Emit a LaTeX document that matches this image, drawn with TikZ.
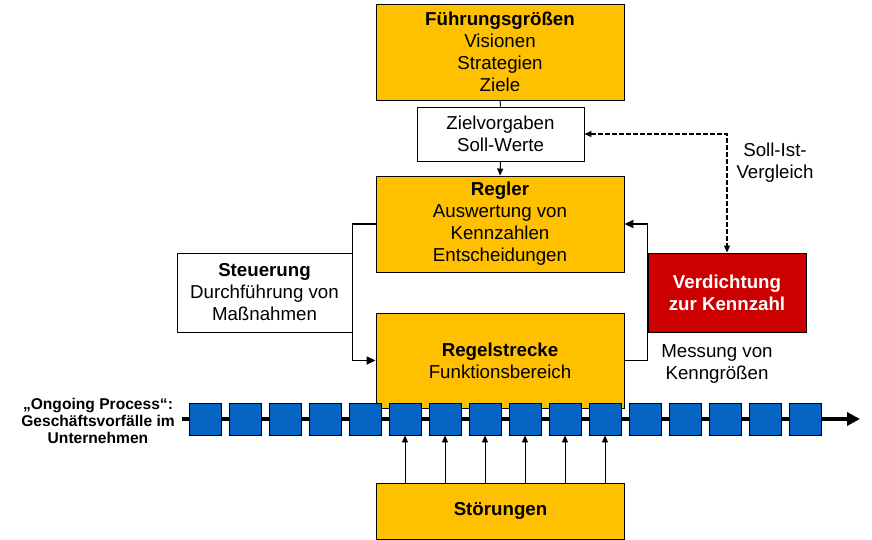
\documentclass[tikz,border=0pt]{standalone}
\usepackage{fontspec}
\setmainfont{Liberation Sans}
\usetikzlibrary{positioning,arrows.meta,calc}
\definecolor{boxorange}{HTML}{FFC000}
\definecolor{procblue}{HTML}{0563C1}
\definecolor{boxred}{HTML}{CC0000}

\begin{document}
\begin{tikzpicture}[x=1pt,y=-1pt,
    every node/.style={font=\fontsize{18.7}{22}\selectfont, align=center, inner sep=0pt},
    orangebox/.style={draw, line width=0.9pt, fill=boxorange, minimum width=248},
    whitebox/.style={draw, line width=0.9pt, fill=white},
    procbox/.style={draw, line width=0.9pt, fill=procblue, minimum size=32},
    flow/.style={line width=1.8pt, -{Triangle[length=9pt,width=8pt]}},
    sollist/.style={line width=1.3pt, dash pattern=on 4.5pt off 2.5pt, {Triangle[length=7pt,width=6pt]}-{Triangle[length=7pt,width=6pt]}},
    stoer/.style={line width=0.8pt, -{Triangle[length=7pt,width=6pt]}}
]
    \useasboundingbox (0,0) rectangle (872,540);

    % Main blocks
    \node[orangebox, minimum height=96] (fuehrung) at (500,52)
        {\textbf{Führungsgrößen}\\Visionen\\Strategien\\Ziele};
    \node[whitebox, minimum width=167, minimum height=54] (ziel) at (500.5,134)
        {Zielvorgaben\\Soll-Werte};
    \node[orangebox, minimum height=96] (regler) at (500,224)
        {\textbf{Regler}\\Auswertung von\\Kennzahlen\\Entscheidungen};
    \node[orangebox, minimum height=95] (strecke) at (500,360.5)
        {\textbf{Regelstrecke}\\Funktionsbereich};
    \node[orangebox, minimum height=56] (stoerung) at (500.5,511)
        {\textbf{Störungen}};

    % Side blocks
    \node[whitebox, minimum width=175, minimum height=79] (steuerung) at (264.5,292.5)
        {\textbf{Steuerung}\\Durchführung von\\Maßnahmen};
    \node[draw, line width=0.9pt, fill=boxred, text=white, minimum width=158, minimum height=79]
        (verdichtung) at (727,292.5) {\textbf{Verdichtung}\\\textbf{zur Kennzahl}};

    % Labels
    \node (vergleich) at (775,163) {Soll-Ist-\\Vergleich};
    \node (messung) at (717,364.5) {Messung von\\Kenngrößen};
    \node[font=\bfseries\fontsize{15.6}{17}\selectfont] (ongoing) at (98,421)
        {„Ongoing Process“:\\Geschäftsvorfälle im\\Unternehmen};

    % Connectors
    \draw[line width=1pt] (fuehrung.south) -- (ziel.north);
    \draw[line width=1pt, -{Triangle[length=7pt,width=6pt]}] (ziel.south) -- (regler.north);
    \draw[flow] (regler.west) -- (regler.west -| steuerung.east)
        -- (strecke.west -| steuerung.east) -- (strecke.west);
    \draw[flow] (strecke.east) -- (strecke.east -| verdichtung.west)
        -- (regler.east -| verdichtung.west) -- (regler.east);
    \draw[sollist] (ziel.east) -- (ziel.east -| verdichtung.north) -- (verdichtung.north);

    % Ongoing process
    \coordinate (pstart) at (182,419);
    \coordinate (pend) at (860,419);
    \draw[line width=4pt, -{Triangle[length=13pt,width=13pt]}] (pstart) -- (pend);
    \foreach \k in {1,...,16}
        \node[procbox] (p\k) at ({205+40*(\k-1)},419) {};

    % Disturbances
    \foreach \k in {6,...,11}
        \draw[stoer] (stoerung.north -| p\k) -- (p\k.south);
\end{tikzpicture}
\end{document}
